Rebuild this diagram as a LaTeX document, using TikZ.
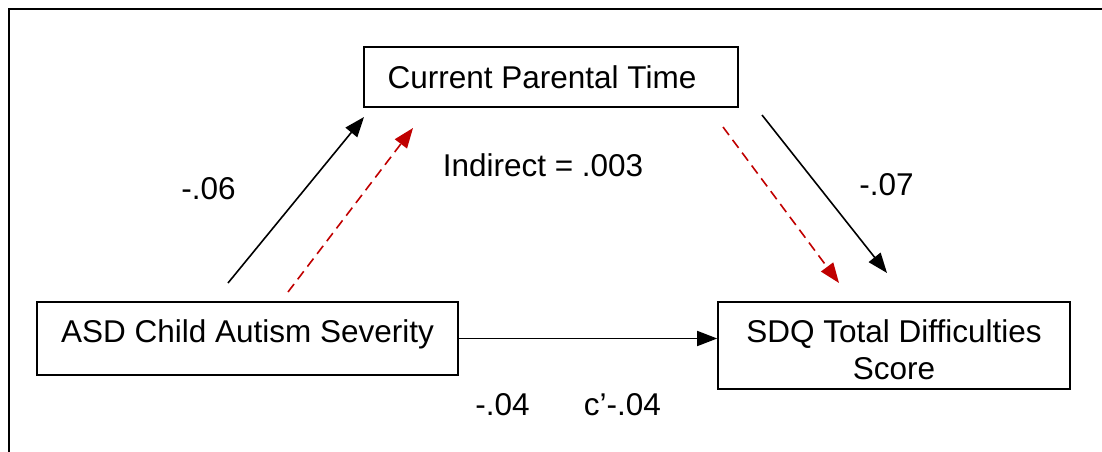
\documentclass[tikz,border=0pt]{standalone}
\usepackage{fontspec}
\setmainfont{Liberation Sans}
\usetikzlibrary{arrows.meta}
\definecolor{dred}{RGB}{192,0,0}
\begin{document}
\begin{tikzpicture}[x=1pt,y=-1pt,
  box/.style={draw, line width=1.6pt, rectangle, inner sep=0pt, font=\fontsize{31.5}{37}\selectfont, align=center},
  lbl/.style={font=\fontsize{31.5}{37}\selectfont, anchor=base, inner sep=0pt},
  blackarrow/.style={line width=1.6pt, -{Triangle[length=20pt,width=15pt]}},
  redarrow/.style={dred, line width=1.6pt, dash pattern=on 10pt off 6pt, -{Triangle[length=20pt,width=15pt]}}]
\useasboundingbox (0,0) rectangle (1102,452);
\draw[line width=2pt] (9,460) -- (9,9) -- (1110,9);
\node[box, minimum width=374pt, minimum height=60pt] (cpt) at (551,77) {Current Parental Time\hspace*{18pt}};
\node[box, minimum width=421pt, minimum height=73pt, text height=23pt, text depth=16pt] (asd) at (247.5,338.5) {ASD Child Autism Severity};
\node[box, minimum width=352pt, minimum height=87pt] (sdq) at (894,345.5) {\rule{0pt}{32pt}SDQ Total Difficulties\\Score};
\coordinate (a1s) at (228,283);
\coordinate (a1e) at (364,117);
\coordinate (r1s) at (288,292);
\coordinate (r1e) at (413,128);
\coordinate (a2s) at (762,115);
\coordinate (a2e) at (887,273);
\coordinate (r2s) at (723,127);
\coordinate (r2e) at (839,283);
\draw[blackarrow] (a1s) -- (a1e);
\draw[redarrow] (r1s) -- (r1e);
\draw[blackarrow] (a2s) -- (a2e);
\draw[redarrow] (r2s) -- (r2e);
\draw[blackarrow] (asd.east) -- (asd.east -| sdq.west);
\node[lbl] (l1) at (208.5,199) {-.06};
\node[lbl] (l2) at (543,176) {Indirect = .003};
\node[lbl] (l3) at (886.5,195) {-.07};
\node[lbl] (l4) at (502.5,415) {-.04};
\node[lbl] (l5) at (622.5,415) {c’-.04};
\end{tikzpicture}
\end{document}
